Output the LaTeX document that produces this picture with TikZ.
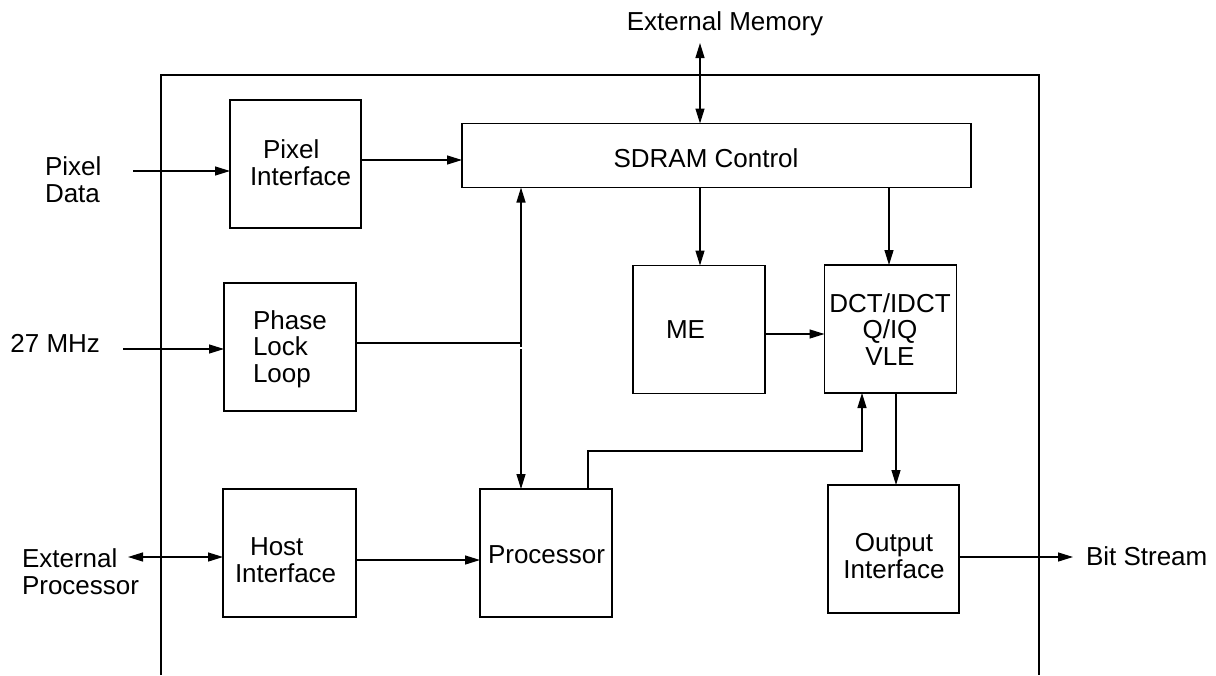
\documentclass[tikz,border=0pt]{standalone}
\usepackage{fontspec}
\setmainfont{Liberation Sans}
\usetikzlibrary{arrows.meta}
\begin{document}
\begin{tikzpicture}[x=1pt,y=-1pt,
  line width=1.3pt,
  tip/.style={-{Triangle[length=15pt,width=9pt]}},
  both/.style={{Triangle[length=15pt,width=9pt]}-{Triangle[length=15pt,width=9pt]}},
  blk/.style={draw,line width=1.3pt,inner sep=0pt,outer sep=0pt},
  txt/.style={inner sep=0pt,outer sep=0pt,font=\fontsize{26}{26.5}\selectfont}]
\useasboundingbox (0,0) rectangle (1216,675);
% outer chip outline (open at the bottom)
\draw (161,675) -- (161,75) -- (1039,75) -- (1039,675);
% blocks
\node[blk,minimum width=131pt,minimum height=128pt] (pix) at (295.5,164) {};
\node[blk,minimum width=132pt,minimum height=128pt] (pll) at (290,347) {};
\node[blk,minimum width=133pt,minimum height=128pt] (host) at (289.5,553) {};
\node[blk,minimum width=509pt,minimum height=64pt] (sdram) at (716.5,155.5) {};
\node[blk,minimum width=132pt,minimum height=128pt] (me) at (699,329.5) {};
\node[blk,minimum width=132pt,minimum height=128pt] (dct) at (890.5,329) {};
\node[blk,minimum width=132pt,minimum height=128pt] (proc) at (546,553) {};
\node[blk,minimum width=131pt,minimum height=128pt] (out) at (893.5,549) {};
% texts (multi-line nodes: base = last line)
\node[txt,anchor=base] (extmem) at (725,30) {External Memory};
\node[txt,anchor=base west,align=left] (pixdata) at (45,202) {Pixel\\Data};
\node[txt,anchor=base east] (mhz) at (100,352) {27 MHz};
\node[txt,anchor=base west,align=left] (extproc) at (22,594) {External\\Processor};
\node[txt,anchor=base west] (bits) at (1086,565) {Bit Stream};
\node[txt,anchor=base west,align=left] (pixt) at (250,185) {\hspace*{13pt}Pixel\\Interface};
\node[txt,anchor=base west,align=left] (pllt) at (253,382) {Phase\\Lock\\Loop};
\node[txt,anchor=base west,align=left] (hostt) at (235,582) {\hspace*{15pt}Host\\Interface};
\node[txt,anchor=base] (sdramt) at (706,167) {SDRAM Control};
\node[txt,anchor=base west] (met) at (666,338) {ME};
\node[txt,anchor=base,align=center] (dctt) at (890,365) {DCT/IDCT\\Q/IQ\\VLE};
\node[txt,anchor=base west] (proct) at (488,563) {Processor};
\node[txt,anchor=base,align=center] (outt) at (894,578) {Output\\Interface};
% free ends
\coordinate (emtip) at (700,43);
\coordinate (pdin) at (133,171);
\coordinate (mhzin) at (123,349);
\coordinate (epin) at (128,557);
\coordinate (bsout) at (1073,557);
\coordinate (bus) at (521,343);
% connectors
\draw[both] (emtip) -- (emtip |- sdram.north);
\draw[tip] (pdin) -- (pdin -| pix.west);
\draw[tip] (pix.east |- 0,160) -- (sdram.west |- 0,160);
\draw[tip] (mhzin) -- (mhzin -| pll.west);
\draw (pll.east |- bus) -- (bus);
\draw[tip] (521,346.5) -- (sdram.south -| 521,0);
\draw[tip] (521,349) -- (proc.north -| 521,0);
\draw[tip] (sdram.south -| 700,0) -- (me.north -| 700,0);
\draw[tip] (sdram.south -| 889,0) -- (dct.north -| 889,0);
\draw[tip] (me.east |- 0,334) -- (dct.west |- 0,334);
\draw[tip] (proc.north -| 588,0) -- (588,451) -- (862,451) -- (dct.south -| 862,0);
\draw[tip] (dct.south -| 896,0) -- (out.north -| 896,0);
\draw[tip] (out.east |- bsout) -- (bsout);
\draw[both] (epin) -- (epin -| host.west);
\draw[tip] (host.east |- 0,560) -- (proc.west |- 0,560);
\end{tikzpicture}
\end{document}
